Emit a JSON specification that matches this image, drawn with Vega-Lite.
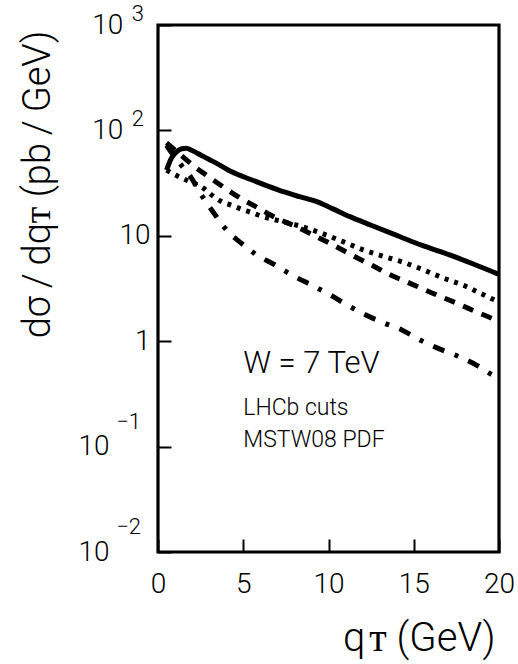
{
  "$schema": "https://vega.github.io/schema/vega-lite/v6.json",
  "autosize": "none",
  "width": 341,
  "height": 527,
  "padding": {"left": 158, "top": 25, "right": 19, "bottom": 112},
  "background": "white",
  "config": {
    "view": {"stroke": "black", "strokeWidth": 3.2},
    "font": "Roboto",
    "axis": {"domain": false, "grid": false, "tickColor": "black", "tickWidth": 2, "labelColor": "black", "titleColor": "black", "labelFont": "Roboto", "titleFont": "Roboto", "labelFontWeight": 300, "titleFontWeight": 300, "labelFlush": false, "labelOverlap": false}
  },
  "datasets": {
    "solid": [
      {"qt": 0.5, "v": 42}, {"qt": 0.8, "v": 55}, {"qt": 1.1, "v": 63}, {"qt": 1.4, "v": 67}, {"qt": 1.65, "v": 67.7},
      {"qt": 2.0, "v": 64.5}, {"qt": 2.5, "v": 58.5}, {"qt": 3.0, "v": 53}, {"qt": 3.44, "v": 48.7}, {"qt": 4.32, "v": 40.5},
      {"qt": 5.4, "v": 34.4}, {"qt": 6.4, "v": 29.8}, {"qt": 7.35, "v": 26.2}, {"qt": 8.3, "v": 23.5}, {"qt": 9.31, "v": 21.1},
      {"qt": 10.3, "v": 17.9}, {"qt": 11.26, "v": 15.2}, {"qt": 12.5, "v": 12.6}, {"qt": 14.2, "v": 9.8}, {"qt": 15.5, "v": 8.1},
      {"qt": 17.1, "v": 6.6}, {"qt": 18.5, "v": 5.4}, {"qt": 20, "v": 4.3}
    ],
    "dashed": [
      {"qt": 0.5, "v": 76}, {"qt": 0.9, "v": 67}, {"qt": 1.3, "v": 59}, {"qt": 1.7, "v": 52}, {"qt": 2.2, "v": 44.5},
      {"qt": 2.8, "v": 38}, {"qt": 3.64, "v": 30.5}, {"qt": 4.69, "v": 23.5}, {"qt": 5.87, "v": 18.4}, {"qt": 6.92, "v": 14.8},
      {"qt": 8.15, "v": 12.1}, {"qt": 9.2, "v": 10}, {"qt": 10.38, "v": 8.0}, {"qt": 11.5, "v": 6.4}, {"qt": 12.6, "v": 5.2},
      {"qt": 13.7, "v": 4.2}, {"qt": 14.6, "v": 3.65}, {"qt": 16, "v": 2.9}, {"qt": 17.5, "v": 2.3}, {"qt": 19, "v": 1.8},
      {"qt": 20, "v": 1.55}
    ],
    "dotted": [
      {"qt": 0.5, "v": 42}, {"qt": 1.06, "v": 37.5}, {"qt": 1.8, "v": 33}, {"qt": 2.64, "v": 28.5}, {"qt": 3.2, "v": 24},
      {"qt": 3.75, "v": 21}, {"qt": 4.34, "v": 19.4}, {"qt": 4.93, "v": 17.8}, {"qt": 5.5, "v": 16.6}, {"qt": 6.1, "v": 15.3},
      {"qt": 7.0, "v": 14.0}, {"qt": 8.15, "v": 12.6}, {"qt": 9.5, "v": 10.7}, {"qt": 10.85, "v": 8.8}, {"qt": 12.0, "v": 7.4},
      {"qt": 13.2, "v": 6.4}, {"qt": 14.4, "v": 5.6}, {"qt": 15.5, "v": 4.8}, {"qt": 16.7, "v": 4.0}, {"qt": 17.9, "v": 3.4},
      {"qt": 19.0, "v": 2.8}, {"qt": 20, "v": 2.35}
    ],
    "dashdot": [
      {"qt": 0.5, "v": 72}, {"qt": 0.9, "v": 58}, {"qt": 1.4, "v": 46}, {"qt": 1.9, "v": 36.6}, {"qt": 2.44, "v": 26},
      {"qt": 3.28, "v": 16.4}, {"qt": 3.93, "v": 11.8}, {"qt": 4.81, "v": 8.7}, {"qt": 5.79, "v": 6.6}, {"qt": 6.86, "v": 5.3},
      {"qt": 7.84, "v": 4.25}, {"qt": 9.1, "v": 3.35}, {"qt": 10.1, "v": 2.75}, {"qt": 11.1, "v": 2.2}, {"qt": 12.1, "v": 1.8},
      {"qt": 13.2, "v": 1.5}, {"qt": 14.3, "v": 1.28}, {"qt": 15.4, "v": 1.02}, {"qt": 16.4, "v": 0.86}, {"qt": 17.6, "v": 0.72},
      {"qt": 18.7, "v": 0.59}, {"qt": 19.5, "v": 0.49}, {"qt": 20, "v": 0.44}
    ],
    "exppos": [{"v": 1000, "e": "3"}, {"v": 100, "e": "2"}],
    "expneg": [{"v": 0.1, "e": "−1"}, {"v": 0.01, "e": "−2"}],
    "one": [{}]
  },
  "layer": [
    {
      "data": {"name": "solid"},
      "mark": {"type": "line", "color": "black", "strokeWidth": 5, "interpolate": "monotone", "strokeCap": "butt"},
      "encoding": {
        "x": {"field": "qt", "type": "quantitative", "scale": {"domain": [0, 20], "nice": false, "zero": false},
          "axis": {"orient": "bottom", "values": [0, 5, 10, 15, 20], "tickSize": -13, "labelFontSize": 28, "labelPadding": 31,
            "title": "q\u200aᴛ (GeV)", "titleFontSize": 40, "titleX": 337, "titleY": 98, "titleAlign": "right", "titleBaseline": "alphabetic", "titleAngle": 0}},
        "y": {"field": "v", "type": "quantitative", "scale": {"type": "log", "domain": [0.01, 1000], "nice": false},
          "axis": {"orient": "left", "values": [0.01, 0.1, 1, 10, 100, 1000], "tickSize": -13, "labelFontSize": 28, "labelPadding": 21, "labelBaseline": "middle",
            "labelExpr": "datum.value == 1 ? '1' : datum.value == 10 ? '10' : datum.value >= 100 ? '10\u00a0\u00a0\u00a0\u00a0\u200b' : '10\u00a0\u00a0\u00a0\u00a0\u00a0\u00a0\u200b'",
            "title": "dσ\u2009/\u2009dqᴛ (pb\u2009/\u2009GeV)", "titleFontSize": 38, "titleAngle": -90, "titleX": -109, "titleY": 5, "titleAlign": "right", "titleBaseline": "alphabetic"}}
      }
    },
    {
      "data": {"name": "dashed"},
      "mark": {"type": "line", "color": "black", "strokeWidth": 5, "interpolate": "monotone", "strokeDash": [11, 9], "strokeCap": "butt"},
      "encoding": {"x": {"field": "qt", "type": "quantitative"}, "y": {"field": "v", "type": "quantitative"}}
    },
    {
      "data": {"name": "dotted"},
      "mark": {"type": "line", "color": "black", "strokeWidth": 5, "interpolate": "monotone", "strokeDash": [4, 6], "strokeCap": "butt"},
      "encoding": {"x": {"field": "qt", "type": "quantitative"}, "y": {"field": "v", "type": "quantitative"}}
    },
    {
      "data": {"name": "dashdot"},
      "mark": {"type": "line", "color": "black", "strokeWidth": 5, "interpolate": "monotone", "strokeDash": [12, 11, 4, 11], "strokeCap": "butt"},
      "encoding": {"x": {"field": "qt", "type": "quantitative"}, "y": {"field": "v", "type": "quantitative"}}
    },
    {
      "data": {"name": "one"},
      "mark": {"type": "text", "fontSize": 31, "font": "Roboto", "fontWeight": 300, "align": "left", "baseline": "alphabetic", "color": "black"},
      "encoding": {"text": {"value": "W = 7 TeV"}, "x": {"datum": 5, "type": "quantitative"}, "y": {"datum": 0.5, "type": "quantitative"}}
    },
    {
      "data": {"name": "one"},
      "mark": {"type": "text", "fontSize": 23, "font": "Roboto", "fontWeight": 300, "align": "left", "baseline": "alphabetic", "color": "black"},
      "encoding": {"text": {"value": "LHCb cuts"}, "x": {"datum": 5, "type": "quantitative"}, "y": {"datum": 0.2, "type": "quantitative"}}
    },
    {
      "data": {"name": "one"},
      "mark": {"type": "text", "fontSize": 23, "font": "Roboto", "fontWeight": 300, "align": "left", "baseline": "alphabetic", "color": "black"},
      "encoding": {"text": {"value": "MSTW08 PDF"}, "x": {"datum": 5, "type": "quantitative"}, "y": {"datum": 0.1, "type": "quantitative"}}
    },
    {
      "data": {"name": "exppos"},
      "mark": {"type": "text", "fontSize": 22, "font": "Roboto", "fontWeight": 300, "align": "right", "baseline": "alphabetic", "dx": -14, "dy": -4, "color": "black"},
      "encoding": {"text": {"field": "e"}, "x": {"datum": 0, "type": "quantitative"}, "y": {"field": "v", "type": "quantitative"}}
    },
    {
      "data": {"name": "expneg"},
      "mark": {"type": "text", "fontSize": 22, "font": "Roboto", "fontWeight": 300, "align": "right", "baseline": "alphabetic", "dx": -17, "dy": -18, "color": "black"},
      "encoding": {"text": {"field": "e"}, "x": {"datum": 0, "type": "quantitative"}, "y": {"field": "v", "type": "quantitative"}}
    }
  ]
}
